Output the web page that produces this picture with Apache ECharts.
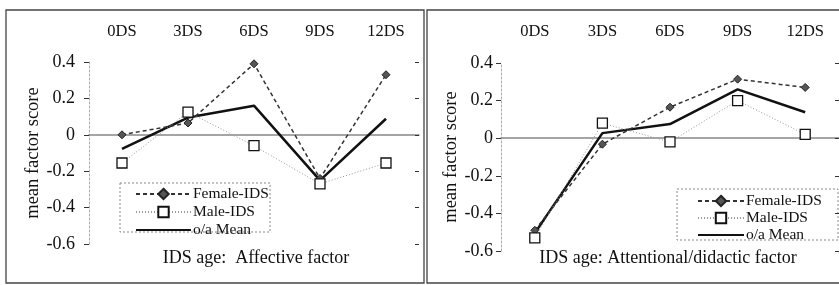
<!DOCTYPE html>
<html>
<head>
    <meta charset="utf-8">
    <title>IDS age factors</title>
    <script src="https://cdn.jsdelivr.net/npm/echarts@6/dist/echarts.min.js"></script>
    <style>
        html, body { margin: 0; padding: 0; background: #fff; }
        #main { width: 839px; height: 285px; }
    </style>
</head>
<body>
<div id="main"></div>
<script type="text/javascript">
    // 数据
    var categories = ['0DS', '3DS', '6DS', '9DS', '12DS'];
    var yTicks = { min: -0.6, max: 0.4, interval: 0.2 };

    // Affective factor
    var affFemale = [0.0, 0.065, 0.39, -0.24, 0.33];
    var affMale = [-0.155, 0.125, -0.06, -0.27, -0.155];
    var affMean = [-0.077, 0.095, 0.16, -0.25, 0.088];

    // Attentional/didactic factor
    var attFemale = [-0.49, -0.032, 0.165, 0.314, 0.27];
    var attMale = [-0.53, 0.08, -0.02, 0.2, 0.02];
    var attMean = [-0.505, 0.027, 0.075, 0.26, 0.138];

    var serif = 'Liberation Serif';
    var ink = '#111';

    var myChart = echarts.init(document.getElementById('main'));

    function yAxes(grid, labelMargin, nameGap) {
        return [{
            type: 'value', gridIndex: grid,
            min: yTicks.min, max: yTicks.max, interval: yTicks.interval,
            name: 'mean factor score', nameLocation: 'middle', nameGap: nameGap,
            nameTextStyle: { fontFamily: serif, fontSize: 18.5, color: ink },
            axisLine: { show: true, lineStyle: { color: '#aaa', type: [2, 2], width: 1 } },
            axisTick: { show: true, length: 5, lineStyle: { color: '#333' } },
            axisLabel: { fontFamily: serif, fontSize: 18, color: ink, margin: labelMargin },
            splitLine: { show: false }
        }, {
            type: 'value', gridIndex: grid,
            min: yTicks.min, max: yTicks.max, interval: yTicks.interval,
            axisLine: { show: false },
            axisTick: { show: true, inside: true, length: 4, lineStyle: { color: '#333' } },
            axisLabel: { show: false },
            splitLine: { show: false }
        }];
    }

    function xAxes(grid, labelMargin) {
        return [{
            type: 'category', gridIndex: grid, data: categories, position: 'bottom',
            axisLine: { onZero: true, lineStyle: { color: '#888', width: 1.5 } },
            axisTick: { length: 4, lineStyle: { color: '#777' } },
            axisLabel: { show: false }
        }, {
            type: 'category', gridIndex: grid, data: categories, position: 'bottom',
            axisLine: { show: false, onZero: true },
            axisTick: { inside: true, length: 4, lineStyle: { color: '#777' } },
            axisLabel: { show: false }
        }, {
            type: 'category', gridIndex: grid, data: categories, position: 'top',
            axisLine: { show: false, onZero: false },
            axisTick: { show: false },
            axisLabel: { fontFamily: serif, fontSize: 16.5, color: ink, margin: labelMargin }
        }];
    }

    function seriesFor(xi, yi, female, male, mean) {
        return [{
            name: 'Female-IDS', type: 'line', xAxisIndex: xi, yAxisIndex: yi,
            data: female, symbol: 'diamond', symbolSize: 8,
            lineStyle: { color: '#333', width: 1.5, type: [4, 3] },
            itemStyle: { color: '#555', borderColor: '#222', borderWidth: 1 },
            z: 3
        }, {
            name: 'Male-IDS', type: 'line', xAxisIndex: xi, yAxisIndex: yi,
            data: male, symbol: 'rect', symbolSize: 10,
            lineStyle: { color: '#999', width: 1, type: [1, 2] },
            itemStyle: { color: '#fff', borderColor: '#111', borderWidth: 1.3 },
            z: 4
        }, {
            name: 'o/a Mean', type: 'line', xAxisIndex: xi, yAxisIndex: yi,
            data: mean, symbol: 'none',
            lineStyle: { color: '#111', width: 2.5 },
            itemStyle: { color: '#111' },
            z: 2
        }];
    }

    var legendNames = ['Female-IDS', 'Male-IDS', { name: 'o/a Mean', itemStyle: { opacity: 0 } }];

    var option = {
        animation: false,
        backgroundColor: '#fff',
        title: [{
            text: 'IDS age:  Affective factor', left: 256, top: 249, textAlign: 'center', padding: 0,
            textStyle: { fontFamily: serif, fontSize: 18, fontWeight: 'normal', color: ink }
        }, {
            text: 'IDS age: Attentional/didactic factor', left: 668, top: 249, textAlign: 'center', padding: 0,
            textStyle: { fontFamily: serif, fontSize: 18, fontWeight: 'normal', color: ink }
        }],
        legend: [{
            data: legendNames, orient: 'vertical', left: 135, top: 186, padding: 0,
            itemWidth: 55, itemHeight: 13, itemGap: 2,
            textStyle: { fontFamily: serif, fontSize: 15.5, color: ink, padding: [0, 0, 0, -3] }
        }, {
            data: legendNames, orient: 'vertical', left: 697, top: 193, padding: 0,
            itemWidth: 46, itemHeight: 13, itemGap: 1,
            textStyle: { fontFamily: serif, fontSize: 15.5, color: ink, padding: [0, 0, 0, -3] }
        }],
        grid: [
            { left: 89, top: 62, width: 330, height: 182 },
            { left: 501, top: 63, width: 340, height: 188 }
        ],
        xAxis: xAxes(0, 22).concat(xAxes(1, 23)),
        yAxis: yAxes(0, 14, 36).concat(yAxes(1, 8, 34)),
        series: seriesFor(0, 0, affFemale, affMale, affMean)
            .concat(seriesFor(3, 2, attFemale, attMale, attMean)),
        graphic: [{
            type: 'rect', shape: { x: 6, y: 10, width: 418, height: 273 },
            style: { fill: 'none', stroke: '#444', lineWidth: 1.3 }, silent: true
        }, {
            type: 'rect', shape: { x: 427, y: 10, width: 420, height: 273 },
            style: { fill: 'none', stroke: '#444', lineWidth: 1.3 }, silent: true
        }, {
            type: 'rect', shape: { x: 120, y: 183, width: 150, height: 49 },
            style: { fill: 'none', stroke: '#888', lineWidth: 1, lineDash: [2, 2] }, silent: true
        }, {
            type: 'rect', shape: { x: 677, y: 189, width: 161, height: 51 },
            style: { fill: 'none', stroke: '#888', lineWidth: 1, lineDash: [2, 2] }, silent: true
        }]
    };

    myChart.setOption(option);
</script>
</body>
</html>
